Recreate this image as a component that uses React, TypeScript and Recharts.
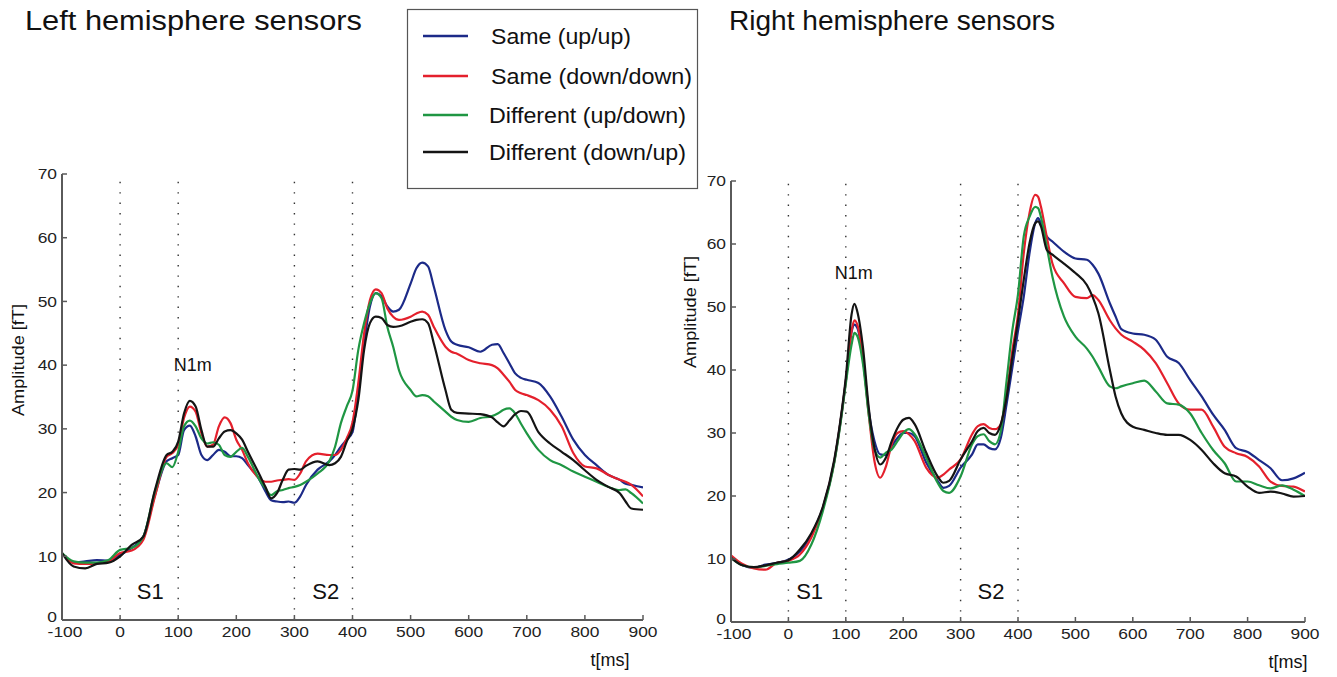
import React from 'react';
import { LineChart, Line, XAxis, YAxis, ReferenceLine, ReferenceDot } from 'recharts';

const FONT = '"Liberation Sans", Arial, Helvetica, sans-serif';

// ---------- Left hemisphere ----------
const leftTimes = [
  -100, -80, -60, -40, -20, 0, 20, 40, 60, 80, 90, 100, 110, 120, 130, 140, 150, 160, 170, 180,
  190, 200, 210, 220, 240, 250, 260, 270, 280, 290, 300, 310, 320, 340, 360, 370, 380, 390, 400, 410,
  420, 430, 440, 450, 460, 470, 480, 500, 510, 520, 530, 540, 560, 570, 580, 600, 620, 640, 650, 660,
  670, 680, 690, 700, 720, 740, 760, 780, 800, 820, 840, 860, 870, 880, 900,
];
const leftUpUp = [
  10.5, 9.0, 9.2, 9.4, 9.3, 10.2, 11.3, 13.1, 19.6, 24.9, 25.4, 25.9, 29.8, 30.5, 28.8, 25.9, 25.1, 25.9, 26.7, 26.4,
  25.7, 25.7, 25.4, 24.3, 22.0, 20.2, 18.8, 18.6, 18.5, 18.6, 18.4, 19.4, 21.2, 23.6, 24.9, 25.9, 27.2, 28.3, 29.5, 36.1,
  43.4, 49.2, 51.3, 50.8, 49.2, 48.4, 48.7, 52.8, 55.2, 56.1, 55.5, 52.3, 45.5, 43.7, 43.2, 42.8, 42.1, 43.2, 43.3, 41.9,
  40.3, 38.7, 38.0, 37.7, 37.2, 35.1, 31.9, 28.3, 25.9, 24.3, 22.8, 22.0, 21.4, 21.2, 20.8,
];
const leftDownDown = [
  10.5, 8.9, 8.8, 8.9, 9.2, 10.5, 10.9, 12.6, 19.4, 25.6, 26.2, 27.5, 31.7, 33.5, 32.7, 29.3, 27.2, 27.5, 30.4, 31.8,
  30.9, 28.3, 26.7, 24.6, 22.2, 21.7, 21.7, 21.9, 22.0, 22.1, 22.0, 23.0, 24.9, 26.1, 25.9, 25.9, 26.7, 28.5, 31.0, 37.2,
  45.0, 50.2, 51.9, 51.3, 48.9, 47.6, 47.1, 47.6, 48.1, 48.4, 47.9, 46.0, 42.9, 42.1, 41.8, 40.8, 40.3, 40.0, 39.5, 38.5,
  37.4, 36.1, 35.6, 35.3, 34.5, 33.0, 30.4, 26.2, 24.1, 23.8, 22.8, 22.0, 21.7, 21.2, 19.4,
];
const leftUpDown = [
  10.5, 9.2, 9.0, 9.0, 9.4, 11.0, 11.3, 13.1, 20.2, 24.6, 24.0, 26.4, 30.4, 31.3, 30.4, 28.5, 27.7, 27.9, 27.5, 25.9,
  25.6, 26.4, 27.0, 25.6, 22.0, 20.7, 19.6, 20.2, 20.4, 20.7, 20.9, 21.2, 21.7, 23.0, 24.9, 27.2, 30.9, 33.5, 36.0, 42.4,
  46.6, 49.7, 51.3, 50.5, 46.0, 42.9, 39.2, 36.1, 35.1, 35.3, 35.1, 34.3, 32.7, 31.9, 31.4, 31.1, 31.7, 32.0, 32.4, 33.0,
  33.2, 32.4, 30.8, 29.3, 26.7, 25.1, 24.3, 23.3, 22.5, 21.7, 20.9, 20.4, 20.5, 19.9, 18.3,
];
const leftDownUp = [
  10.5, 8.4, 8.1, 8.8, 9.0, 10.0, 11.8, 13.1, 20.4, 25.9, 26.4, 28.0, 32.4, 34.4, 33.5, 29.8, 27.2, 27.2, 28.5, 29.6,
  29.8, 29.3, 28.3, 26.4, 22.8, 20.9, 19.1, 19.9, 22.0, 23.6, 23.7, 23.6, 24.2, 24.9, 24.3, 24.6, 25.6, 28.0, 30.0, 34.5,
  42.4, 46.6, 47.6, 47.4, 46.3, 46.0, 46.1, 46.8, 47.1, 47.2, 46.6, 43.4, 36.1, 33.0, 32.5, 32.4, 32.3, 31.8, 31.0, 30.4,
  31.3, 32.3, 32.8, 32.7, 29.5, 27.7, 26.4, 25.1, 23.5, 22.0, 20.9, 19.9, 18.6, 17.5, 17.3,
];

// ---------- Right hemisphere ----------
const rightTimes = [
  -100, -80, -60, -40, -20, 0, 20, 40, 60, 80, 90, 100, 110, 115, 120, 130, 140, 150, 160, 170,
  180, 190, 200, 210, 220, 240, 260, 270, 280, 300, 320, 330, 340, 350, 360, 370, 380, 390, 400, 410,
  420, 430, 435, 440, 450, 460, 480, 500, 520, 530, 540, 560, 570, 580, 600, 620, 640, 660, 680, 700,
  720, 740, 760, 780, 800, 820, 840, 860, 880, 900,
];
const rightUpUp = [
  10.2, 9.0, 8.6, 9.1, 9.4, 9.9, 11.2, 13.9, 18.1, 25.5, 31.3, 38.2, 46.0, 47.2, 46.7, 41.9, 33.5, 28.7, 26.6, 26.5,
  27.9, 29.2, 30.0, 30.0, 29.5, 25.3, 22.4, 21.3, 21.6, 24.5, 26.6, 28.2, 28.2, 27.6, 27.4, 29.2, 34.5, 40.3, 46.2, 51.6,
  58.5, 63.3, 64.1, 63.3, 61.2, 60.4, 58.8, 57.7, 57.5, 56.7, 55.3, 50.6, 48.5, 46.5, 45.8, 45.6, 44.8, 42.1, 41.1, 38.4,
  35.8, 32.9, 30.5, 27.6, 27.0, 25.7, 24.4, 22.5, 22.8, 23.7,
];
const rightDownDown = [
  10.6, 9.2, 8.5, 8.3, 9.4, 9.7, 10.7, 13.4, 18.1, 25.5, 31.3, 38.2, 46.2, 47.9, 47.2, 41.9, 32.9, 25.5, 22.9, 24.7,
  28.2, 30.0, 30.3, 29.8, 28.7, 24.5, 22.9, 23.4, 24.2, 25.8, 29.8, 31.1, 31.4, 30.8, 30.6, 31.4, 36.1, 43.0, 48.8, 58.5,
  64.9, 67.8, 67.5, 65.9, 61.2, 56.9, 53.8, 51.6, 51.4, 51.9, 51.1, 47.9, 46.6, 45.6, 44.5, 43.2, 41.1, 37.9, 34.7, 33.7,
  33.7, 31.0, 27.8, 26.8, 26.2, 24.7, 22.3, 21.6, 21.5, 20.7,
];
const rightUpDown = [
  10.2, 9.0, 8.7, 8.9, 9.2, 9.4, 9.7, 12.3, 17.6, 25.3, 31.0, 37.8, 44.0, 45.9, 45.4, 40.9, 32.9, 27.4, 26.1, 26.9,
  27.4, 28.7, 30.0, 30.6, 29.8, 26.1, 22.1, 20.8, 20.5, 23.1, 28.2, 29.5, 29.8, 28.7, 28.2, 30.3, 38.2, 46.2, 52.0, 61.2,
  64.3, 65.9, 65.7, 64.3, 59.6, 54.8, 48.5, 45.3, 43.4, 42.1, 40.5, 37.4, 37.1, 37.4, 37.9, 38.3, 36.6, 34.7, 34.5, 33.1,
  30.0, 27.3, 25.2, 22.3, 22.3, 21.7, 21.2, 21.7, 21.0, 20.0,
];
const rightDownUp = [
  10.2, 9.0, 8.7, 9.0, 9.4, 9.8, 11.5, 14.1, 18.3, 25.8, 31.6, 38.8, 48.8, 50.5, 49.3, 43.5, 34.0, 27.6, 25.0, 26.1,
  28.7, 30.8, 32.1, 32.4, 31.4, 26.9, 23.1, 22.1, 22.4, 25.8, 28.7, 30.3, 30.8, 30.0, 29.7, 31.4, 35.6, 41.9, 47.8, 54.3,
  60.1, 63.3, 63.6, 62.8, 59.1, 58.3, 56.9, 55.4, 53.5, 51.6, 49.0, 40.0, 35.8, 33.1, 31.0, 30.5, 30.0, 29.7, 29.7, 28.9,
  27.3, 25.2, 23.6, 23.1, 21.5, 20.5, 20.7, 20.4, 19.9, 20.0,
];

const X_TICKS = [-100, 0, 100, 200, 300, 400, 500, 600, 700, 800, 900];
const Y_TICKS = [0, 10, 20, 30, 40, 50, 60, 70];
const MARKER_TIMES = [0, 100, 300, 400];

const SERIES = [
  { key: 'upup', name: 'Same (up/up)', color: '#1c2a88' },
  { key: 'downdown', name: 'Same (down/down)', color: '#e4202c' },
  { key: 'updown', name: 'Different (up/down)', color: '#1f9643' },
  { key: 'downup', name: 'Different (down/up)', color: '#141414' },
];

function buildRows(times: number[], a: number[], b: number[], c: number[], d: number[]) {
  return times.map((t, i) => ({ t, upup: a[i], downdown: b[i], updown: c[i], downup: d[i] }));
}

const leftRows = buildRows(leftTimes, leftUpUp, leftDownDown, leftUpDown, leftDownUp);
const rightRows = buildRows(rightTimes, rightUpUp, rightDownDown, rightUpDown, rightDownUp);

const TM = 5;
const AXIS_COLOR = '#5a5a5a';
const TICK_FS = 14.5;
const STRETCH = 1.2;

const YTick = (props: any) => {
  const { x, y, payload } = props;
  const ax = x + TM;
  const ly = payload.value === 0 ? y - 3 : y;
  return (
    <g>
      <line x1={ax} x2={ax + 5} y1={y} y2={y} stroke={AXIS_COLOR} strokeWidth={1.5} />
      <text
        transform={`translate(${x},${ly}) scale(${STRETCH},1)`}
        x={0}
        y={0}
        dy="0.36em"
        textAnchor="end"
        fontSize={TICK_FS}
        fill="#222"
        fontFamily={FONT}
      >
        {payload.value}
      </text>
    </g>
  );
};

const XTick = (props: any) => {
  const { x, y, payload } = props;
  const ay = y - TM;
  return (
    <g>
      <line x1={x} x2={x} y1={ay} y2={ay - 5} stroke={AXIS_COLOR} strokeWidth={1.5} />
      <text
        transform={`translate(${x + (payload.value === -100 ? 3 : 0)},${y + 1}) scale(${STRETCH},1)`}
        x={0}
        y={0}
        dy="0.78em"
        textAnchor="middle"
        fontSize={TICK_FS}
        fill="#222"
        fontFamily={FONT}
      >
        {payload.value}
      </text>
    </g>
  );
};

const textShape = (label: string, size: number) => (p: any) => (
  <text x={p.cx} y={p.cy} textAnchor="middle" dominantBaseline="central" fontSize={size} fill="#111" fontFamily={FONT}>
    {label}
  </text>
);

type PanelProps = {
  rows: any[];
  width: number;
  height: number;
  margin: { top: number; right: number; bottom: number; left: number };
  yWidth: number;
  n1m: [number, number];
  s1: [number, number];
  s2: [number, number];
};

function Panel({ rows, width, height, margin, yWidth, n1m, s1, s2 }: PanelProps) {
  return (
    <LineChart width={width} height={height} data={rows} margin={margin}>
      <XAxis
        dataKey="t"
        type="number"
        domain={[-100, 900]}
        ticks={X_TICKS}
        interval={0}
        height={30}
        tickSize={0}
        tickMargin={TM}
        tick={<XTick />}
        axisLine={{ stroke: AXIS_COLOR, strokeWidth: 2 }}
        tickLine={false}
        allowDataOverflow
      />
      <YAxis
        type="number"
        domain={[0, 70]}
        ticks={Y_TICKS}
        interval={0}
        width={yWidth}
        tickSize={0}
        tickMargin={TM}
        tick={<YTick />}
        axisLine={{ stroke: AXIS_COLOR, strokeWidth: 2 }}
        tickLine={false}
        allowDataOverflow
      />
      {MARKER_TIMES.map((m) => (
        <ReferenceLine key={m} x={m} stroke="#333" strokeWidth={1.4} strokeDasharray="1.4 9" />
      ))}
      {SERIES.map((s) => (
        <Line
          key={s.key}
          dataKey={s.key}
          name={s.name}
          type="monotone"
          stroke={s.color}
          strokeWidth={2.2}
          dot={false}
          activeDot={false}
          isAnimationActive={false}
        />
      ))}
      <ReferenceDot x={n1m[0]} y={n1m[1]} r={0} shape={textShape('N1m', 18)} />
      <ReferenceDot x={s1[0]} y={s1[1]} r={0} shape={textShape('S1', 22)} />
      <ReferenceDot x={s2[0]} y={s2[1]} r={0} shape={textShape('S2', 22)} />
    </LineChart>
  );
}

const LEGEND_Y = [36, 76, 115, 152];
const LEGEND_X = [491, 491, 489, 489];
const LEGEND_W = [140, 201, 197, 197];

export default function App() {
  return (
    <div style={{ position: 'absolute', left: 0, top: 0, width: 1337, height: 677, background: '#fff', overflow: 'hidden' }}>
      <div style={{ position: 'absolute', left: 0, top: 0 }}>
        <Panel
          rows={leftRows}
          width={680}
          height={677}
          margin={{ top: 174, right: 37, bottom: 27, left: 12 }}
          yWidth={50}
          n1m={[125, 40]}
          s1={[52, 4.5]}
          s2={[354, 4.5]}
        />
      </div>
      <div style={{ position: 'absolute', left: 680, top: 0 }}>
        <Panel
          rows={rightRows}
          width={657}
          height={677}
          margin={{ top: 181, right: 32, bottom: 25, left: 6 }}
          yWidth={45}
          n1m={[114, 55.4]}
          s1={[37, 4.9]}
          s2={[353, 4.9]}
        />
      </div>
      <svg
        width={1337}
        height={677}
        style={{ position: 'absolute', left: 0, top: 0, pointerEvents: 'none' }}
        fontFamily={FONT}
      >
        <text x={25} y={30} fontSize={27.5} fill="#111" textLength={337} lengthAdjust="spacingAndGlyphs">Left hemisphere sensors</text>
        <text x={729} y={30} fontSize={27.5} fill="#111" textLength={326} lengthAdjust="spacingAndGlyphs">Right hemisphere sensors</text>
        <rect x={407.5} y={9.5} width={290} height={179} fill="#fff" stroke="#555" strokeWidth={1.2} />
        {SERIES.map((s, i) => (
          <g key={s.key}>
            <line x1={423} x2={468} y1={LEGEND_Y[i]} y2={LEGEND_Y[i]} stroke={s.color} strokeWidth={2.5} />
            <text
              x={LEGEND_X[i]}
              y={LEGEND_Y[i] + 8}
              fontSize={22.5}
              fill="#111"
              textLength={LEGEND_W[i]}
              lengthAdjust="spacingAndGlyphs"
            >
              {s.name}
            </text>
          </g>
        ))}
        <text x={610} y={666} fontSize={18} fill="#111" textAnchor="middle">t[ms]</text>
        <text x={1288} y={668} fontSize={18} fill="#111" textAnchor="middle">t[ms]</text>
        <text x={24} y={360} fontSize={17} fill="#111" textAnchor="middle" transform="rotate(-90 24 360)" textLength={112} lengthAdjust="spacingAndGlyphs">Amplitude [fT]</text>
        <text x={696} y={312} fontSize={17} fill="#111" textAnchor="middle" transform="rotate(-90 696 312)" textLength={112} lengthAdjust="spacingAndGlyphs">Amplitude [fT]</text>
      </svg>
    </div>
  );
}
